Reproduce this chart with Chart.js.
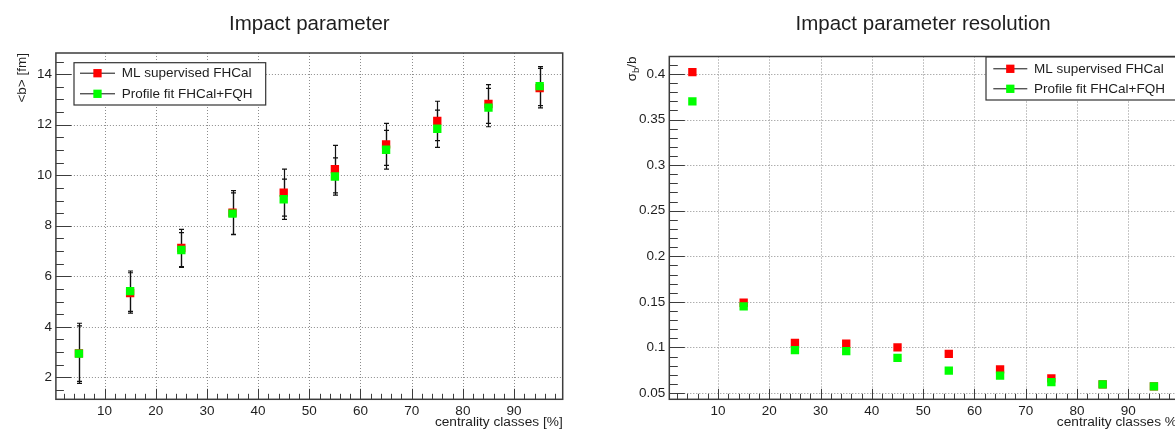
<!DOCTYPE html>
<html>
<head>
<meta charset="utf-8">
<title>Impact parameter</title>
<script src="https://cdn.jsdelivr.net/npm/chart.js@4.4.1/dist/chart.umd.min.js"></script>
<style>
  html, body { margin: 0; padding: 0; background: #fff; overflow: hidden; width: 1175px; height: 430px; }
  canvas { position: absolute; top: 0; }
  #impactChart { left: 0; }
  #resolutionChart { left: 587px; }
</style>
</head>
<body>
<canvas id="impactChart" width="587" height="430"></canvas>
<canvas id="resolutionChart" width="620" height="430"></canvas>
<script>
// Centrality class centres [%]
const centrality = [5, 15, 25, 35, 45, 55, 65, 75, 85, 95];

// Mean impact parameter <b> [fm] and its spread
const bMeanML  = [2.95, 5.34, 7.12, 8.52, 9.31, 10.24, 11.22, 12.15, 12.82, 13.45];
const bErrML   = [1.19, 0.80, 0.74, 0.87, 0.93, 0.94, 0.83, 0.78, 0.77, 0.78];
const bMeanFit = [2.94, 5.41, 7.04, 8.48, 9.05, 9.95, 11.01, 11.84, 12.68, 13.53];
const bErrFit  = [1.10, 0.80, 0.69, 0.82, 0.80, 0.74, 0.77, 0.74, 0.76, 0.77];

// Resolution sigma_b / b
const resML  = [0.402, 0.149, 0.105, 0.104, 0.100, 0.093, 0.076, 0.066, 0.0595, 0.0572];
const resFit = [0.370, 0.145, 0.097, 0.096, 0.0885, 0.0745, 0.069, 0.062, 0.0595, 0.0572];

// Tick labels
const xTicks   = [10, 20, 30, 40, 50, 60, 70, 80, 90];
const bTicks   = [2, 4, 6, 8, 10, 12, 14];
const resTicks = [0.05, 0.1, 0.15, 0.2, 0.25, 0.3, 0.35, 0.4];

const seriesNames = ['ML supervised FHCal', 'Profile fit FHCal+FQH'];

const FONT = '"Liberation Sans", Arial, Helvetica, sans-serif';
const INK = '#1e1e1e';
const FRAME = '#3c3c3c';
const RED = '#ff0000';
const GREEN = '#00ff00';

// Per-panel look (titles, tick lengths, legend box), keyed by canvas id
const panelStyle = {
    impactChart: {
        title: 'Impact parameter',
        xTitle: 'centrality classes [%]',
        yTitle: [{ text: '<b> [fm]', size: 13.5, shift: 0 }],
        yTitleX: 25.5,
        xMajor: 10.5, xMinor: 5.5,
        yStep: 0.5, yPerMajor: 4, yMajor: 15.5, yMinor: 8,
        legend: { x1: 74, y1: 62.7, x2: 265.7, y2: 105, rows: [72.7, 93.3], lineX1: 80, lineX2: 115, textX: 121.7 }
    },
    resolutionChart: {
        title: 'Impact parameter resolution',
        xTitle: 'centrality classes %',
        yTitle: [{ text: '\u03c3', size: 13.5, shift: 0 }, { text: 'b', size: 9.5, shift: 3 }, { text: '/b', size: 13.5, shift: 0 }],
        yTitleX: 48.5,
        xMajor: 10.5, xMinor: 5.5,
        yStep: 0.01, yPerMajor: 5, yMajor: 15.5, yMinor: 8.5,
        legend: { x1: 399, y1: 57, x2: 592, y2: 100, rows: [68.3, 88.3], lineX1: 406.3, lineX2: 440.3, textX: 447 }
    }
};

// Build a dataset from the arrays
function makeSeries(label, ys, errs, color, order) {
    return {
        label: label,
        data: centrality.map((x, i) => ({ x: x, y: ys[i] })),
        errors: errs,
        backgroundColor: color,
        borderColor: color,
        pointStyle: 'rect',
        pointRadius: 5.9,
        pointBorderWidth: 0,
        showLine: false,
        order: order
    };
}

// ROOT-like frame, dotted grid, inner ticks, error bars, legend and titles
const rootStyle = {
    id: 'rootStyle',
    beforeDatasetsDraw(chart) {
        const { ctx, chartArea: a } = chart;
        const xs = chart.scales.x, ys = chart.scales.y;
        ctx.save();
        // dotted grid at major ticks
        ctx.strokeStyle = '#8c8c8c';
        ctx.lineWidth = 1;
        ctx.setLineDash([1, 2]);
        ctx.beginPath();
        xs.ticks.forEach(t => {
            const px = Math.round(xs.getPixelForValue(t.value)) + 0.5;
            ctx.moveTo(px, a.top); ctx.lineTo(px, a.bottom);
        });
        ys.ticks.forEach(t => {
            const py = Math.round(ys.getPixelForValue(t.value)) + 0.5;
            ctx.moveTo(a.left, py); ctx.lineTo(a.right, py);
        });
        ctx.stroke();
        ctx.setLineDash([]);

        // error bars
        ctx.strokeStyle = '#111';
        ctx.lineWidth = 1.2;
        chart.data.datasets.forEach((ds, di) => {
            if (!ds.errors) return;
            const meta = chart.getDatasetMeta(di);
            ctx.beginPath();
            meta.data.forEach((pt, i) => {
                const v = ds.data[i].y, e = ds.errors[i];
                const yTop = ys.getPixelForValue(v + e);
                const yBot = ys.getPixelForValue(v - e);
                const px = Math.round(pt.x) + 0.5;
                ctx.moveTo(px, yTop); ctx.lineTo(px, yBot);
                ctx.moveTo(px - 2.5, yTop); ctx.lineTo(px + 2.5, yTop);
                ctx.moveTo(px - 2.5, yBot); ctx.lineTo(px + 2.5, yBot);
            });
            ctx.stroke();
        });
        ctx.restore();
    },
    afterDraw(chart) {
        const opts = panelStyle[chart.canvas.id];
        const { ctx, chartArea: a } = chart;
        const xs = chart.scales.x, ys = chart.scales.y;
        ctx.save();

        // inner tick marks
        ctx.strokeStyle = FRAME;
        ctx.lineWidth = 1;
        ctx.beginPath();
        for (let k = Math.ceil(xs.min / 2); k * 2 <= xs.max; k++) {
            const px = Math.round(xs.getPixelForValue(k * 2)) + 0.5;
            const len = k % 5 === 0 ? opts.xMajor : opts.xMinor;
            ctx.moveTo(px, a.bottom); ctx.lineTo(px, a.bottom - len);
        }
        const st = opts.yStep;
        for (let k = Math.ceil(ys.min / st - 1e-9); k * st <= ys.max + 1e-9; k++) {
            const py = Math.round(ys.getPixelForValue(k * st)) + 0.5;
            const len = k % opts.yPerMajor === 0 ? opts.yMajor : opts.yMinor;
            ctx.moveTo(a.left, py); ctx.lineTo(a.left + len, py);
        }
        ctx.stroke();

        // frame
        ctx.lineWidth = 1.5;
        ctx.strokeRect(a.left, a.top, a.right - a.left, a.bottom - a.top);

        // title
        ctx.fillStyle = INK;
        ctx.font = '20.5px ' + FONT;
        ctx.textAlign = 'center';
        ctx.textBaseline = 'alphabetic';
        ctx.fillText(opts.title, (a.left + a.right) / 2, 30);

        // x axis title
        ctx.font = '13.7px ' + FONT;
        ctx.textAlign = 'right';
        ctx.fillText(opts.xTitle, a.right, 426);

        // y axis title, rotated and pushed to the top of the frame
        ctx.save();
        ctx.translate(opts.yTitleX, a.top);
        ctx.rotate(-Math.PI / 2);
        ctx.textAlign = 'left';
        ctx.textBaseline = 'alphabetic';
        ctx.fillStyle = INK;
        let total = 0;
        opts.yTitle.forEach(p => { ctx.font = p.size + 'px ' + FONT; total += ctx.measureText(p.text).width; });
        let cx = -total;
        opts.yTitle.forEach(p => {
            ctx.font = p.size + 'px ' + FONT;
            ctx.fillText(p.text, cx, p.shift);
            cx += ctx.measureText(p.text).width;
        });
        ctx.restore();

        // legend box
        const L = opts.legend;
        ctx.fillStyle = '#fff';
        ctx.fillRect(L.x1, L.y1, L.x2 - L.x1, L.y2 - L.y1);
        ctx.strokeStyle = '#333';
        ctx.lineWidth = 1.2;
        ctx.strokeRect(L.x1, L.y1, L.x2 - L.x1, L.y2 - L.y1);
        ctx.font = '13.5px ' + FONT;
        ctx.textAlign = 'left';
        ctx.textBaseline = 'middle';
        chart.data.datasets.forEach((ds, i) => {
            const y = L.rows[i];
            ctx.strokeStyle = '#111';
            ctx.lineWidth = 1;
            ctx.beginPath();
            ctx.moveTo(L.lineX1, y + 0.5); ctx.lineTo(L.lineX2, y + 0.5);
            ctx.stroke();
            const mx = (L.lineX1 + L.lineX2) / 2;
            ctx.fillStyle = ds.backgroundColor;
            ctx.fillRect(mx - 4.15, y - 3.65, 8.3, 8.3);
            ctx.fillStyle = INK;
            ctx.fillText(ds.label, L.textX, y + 1);
        });
        ctx.restore();
    }
};

function makeChart(canvasId, seriesA, seriesB, yMin, yMax, yTickList, pad, yWidth) {
    const ctx = document.getElementById(canvasId).getContext('2d');
    return new Chart(ctx, {
        type: 'scatter',
        data: { datasets: [seriesA, seriesB] },
        options: {
            responsive: false,
            animation: false,
            devicePixelRatio: 1,
            events: [],
            layout: { padding: pad },
            plugins: {
                legend: { display: false },
                tooltip: { enabled: false }
            },
            scales: {
                x: {
                    type: 'linear',
                    min: 0.5,
                    max: 99.5,
                    afterBuildTicks: s => { s.ticks = xTicks.map(v => ({ value: v })); },
                    afterFit: s => { s.height = 430 - 399.3; },
                    grid: { display: false, drawTicks: false },
                    border: { display: false },
                    ticks: { color: INK, font: { family: FONT, size: 13.5 }, padding: 4, maxRotation: 0,
                             callback: v => String(v) }
                },
                y: {
                    type: 'linear',
                    min: yMin,
                    max: yMax,
                    afterBuildTicks: s => { s.ticks = yTickList.map(v => ({ value: v })); },
                    afterFit: s => { s.width = yWidth; },
                    grid: { display: false, drawTicks: false },
                    border: { display: false },
                    ticks: { color: INK, font: { family: FONT, size: 13.5 }, padding: 4,
                             callback: v => String(v) }
                }
            }
        },
        plugins: [rootStyle]
    });
}

// Left panel: mean impact parameter
makeChart('impactChart',
    makeSeries(seriesNames[0], bMeanML, bErrML, RED, 2),
    makeSeries(seriesNames[1], bMeanFit, bErrFit, GREEN, 1),
    1.13, 14.84, bTicks,
    { top: 53, right: 587 - 562.7, left: 0, bottom: 0 },
    55.9);

// Right panel: impact parameter resolution
makeChart('resolutionChart',
    makeSeries(seriesNames[0], resML, null, RED, 2),
    makeSeries(seriesNames[1], resFit, null, GREEN, 1),
    0.0431, 0.4192, resTicks,
    { top: 56.5, right: 620 - 590, left: 0, bottom: 0 },
    82.3);
</script>
</body>
</html>
